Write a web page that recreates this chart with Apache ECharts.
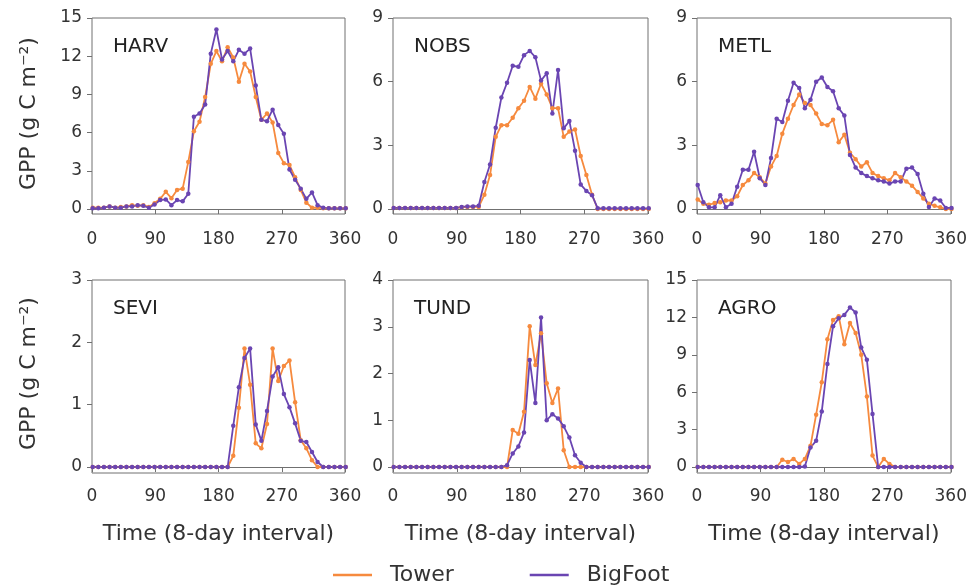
<!DOCTYPE html>
<html>
<head>
<meta charset="utf-8">
<script src="https://cdn.jsdelivr.net/npm/echarts@6/dist/echarts.min.js"></script>
<style>
  html, body { margin: 0; padding: 0; background: #fff; }
  #chart { width: 970px; height: 587px; }
</style>
</head>
<body>
<div id="chart"></div>
<script>
var days = [1, 9, 17, 25, 33, 41, 49, 57, 65, 73, 81, 89, 97, 105, 113, 121, 129, 137, 145, 153,
  161, 169, 177, 185, 193, 201, 209, 217, 225, 233, 241, 249, 257, 265, 273, 281, 289, 297, 305, 313,
  321, 329, 337, 345, 353, 361];

var sites = ['HARV', 'NOBS', 'METL', 'SEVI', 'TUND', 'AGRO'];
var yMax = [15, 9, 9, 3, 4, 15];
var yStep = [3, 3, 3, 1, 1, 3];

var harvTower = [0.1, 0.1, 0.1, 0.2, 0.1, 0.15, 0.2, 0.3, 0.25, 0.3, 0.15, 0.45, 0.8, 1.35, 0.85, 1.5,
  1.6, 3.7, 6.1, 6.85, 8.8, 11.4, 12.4, 11.6, 12.7, 11.9, 10.0, 11.4, 10.8, 8.8, 7.0, 7.5, 6.8, 4.4,
  3.6, 3.45, 2.5, 1.5, 0.5, 0.1, 0.1, 0.05, 0.05, 0.05, 0.05, 0.05];
var harvBigFoot = [0.05, 0.05, 0.1, 0.2, 0.1, 0.1, 0.2, 0.2, 0.3, 0.25, 0.1, 0.35, 0.7, 0.75, 0.3, 0.7,
  0.6, 1.2, 7.25, 7.5, 8.2, 12.2, 14.1, 11.75, 12.4, 11.6, 12.5, 12.2, 12.6, 9.7, 7.0, 6.9, 7.8, 6.6,
  5.9, 3.1, 2.3, 1.6, 0.8, 1.3, 0.3, 0.1, 0.05, 0.05, 0.05, 0.05];

var nobsTower = [0.05, 0.05, 0.05, 0.05, 0.05, 0.05, 0.05, 0.05, 0.05, 0.05, 0.05, 0.05, 0.08, 0.1, 0.1, 0.1,
  0.67, 1.6, 3.4, 3.95, 3.95, 4.3, 4.75, 5.1, 5.75, 5.2, 5.9, 5.4, 4.75, 4.75, 3.4, 3.65, 3.75, 2.5,
  1.6, 0.67, 0, 0, 0, 0, 0, 0, 0, 0, 0, 0];
var nobsBigFoot = [0.05, 0.05, 0.05, 0.05, 0.05, 0.05, 0.05, 0.05, 0.05, 0.05, 0.05, 0.05, 0.1, 0.12, 0.12, 0.15,
  1.27, 2.1, 3.83, 5.25, 5.95, 6.75, 6.7, 7.25, 7.45, 7.15, 6.05, 6.4, 4.5, 6.55, 3.8, 4.15, 2.75, 1.15,
  0.85, 0.65, 0.03, 0.03, 0.03, 0.03, 0.03, 0.03, 0.03, 0.03, 0.03, 0.03];

var metlTower = [0.45, 0.25, 0.2, 0.28, 0.32, 0.4, 0.4, 0.6, 1.13, 1.35, 1.7, 1.5, 1.2, 2.0, 2.5, 3.55,
  4.25, 4.9, 5.4, 5.0, 4.9, 4.5, 4.0, 3.95, 4.2, 3.15, 3.5, 2.65, 2.35, 2.0, 2.2, 1.7, 1.55, 1.45,
  1.35, 1.7, 1.5, 1.3, 1.1, 0.8, 0.5, 0.25, 0.15, 0.08, 0, 0];
var metlBigFoot = [1.13, 0.32, 0.08, 0.08, 0.65, 0.08, 0.25, 1.05, 1.85, 1.85, 2.7, 1.45, 1.13, 2.4, 4.25, 4.1,
  5.1, 5.95, 5.7, 4.75, 5.15, 6.0, 6.2, 5.75, 5.55, 4.75, 4.4, 2.55, 1.95, 1.7, 1.55, 1.45, 1.35, 1.3,
  1.2, 1.3, 1.3, 1.9, 1.95, 1.65, 0.72, 0.1, 0.5, 0.4, 0.05, 0.05];

var seviTower = [0, 0, 0, 0, 0, 0, 0, 0, 0, 0, 0, 0, 0, 0, 0, 0, 0, 0, 0, 0, 0, 0, 0, 0, 0,
  0.18, 0.95, 1.9, 1.32, 0.38, 0.3, 0.69, 1.9, 1.38, 1.62, 1.71, 1.04, 0.43, 0.3, 0.11,
  0, 0, 0, 0, 0, 0];
var seviBigFoot = [0, 0, 0, 0, 0, 0, 0, 0, 0, 0, 0, 0, 0, 0, 0, 0, 0, 0, 0, 0, 0, 0, 0, 0, 0,
  0.66, 1.28, 1.75, 1.9, 0.68, 0.42, 0.9, 1.45, 1.6, 1.17, 0.96, 0.7, 0.42, 0.4, 0.24, 0.08,
  0, 0, 0, 0, 0];

var tundTower = [0, 0, 0, 0, 0, 0, 0, 0, 0, 0, 0, 0, 0, 0, 0, 0, 0, 0, 0, 0, 0,
  0.79, 0.71, 1.18, 3.01, 2.18, 2.86, 1.79, 1.37, 1.68, 0.36,
  0, 0, 0, 0, 0, 0, 0, 0, 0, 0, 0, 0, 0, 0, 0];
var tundBigFoot = [0, 0, 0, 0, 0, 0, 0, 0, 0, 0, 0, 0, 0, 0, 0, 0, 0, 0, 0, 0,
  0.04, 0.29, 0.44, 0.74, 2.29, 1.37, 3.2, 1.0, 1.13, 1.04, 0.87, 0.63, 0.25, 0.09,
  0, 0, 0, 0, 0, 0, 0, 0, 0, 0, 0, 0];

var agroTower = [0, 0, 0, 0, 0, 0, 0, 0, 0, 0, 0, 0, 0, 0,
  0, 0.58, 0.4, 0.65, 0.25, 0.65, 1.7, 4.2, 6.8, 10.25, 11.8, 12.1, 9.85, 11.55, 10.75, 9.0, 5.65, 0.92, 0, 0.65, 0.25,
  0, 0, 0, 0, 0, 0, 0, 0, 0, 0, 0];
var agroBigFoot = [0, 0, 0, 0, 0, 0, 0, 0, 0, 0, 0, 0, 0, 0, 0, 0, 0, 0, 0,
  0.05, 1.57, 2.1, 4.46, 8.27, 11.29, 11.94, 12.2, 12.8, 12.39, 9.58, 8.6, 4.25, 0,
  0, 0, 0, 0, 0, 0, 0, 0, 0, 0, 0, 0, 0];

var towerData = [harvTower, nobsTower, metlTower, seviTower, tundTower, agroTower];
var bigFootData = [harvBigFoot, nobsBigFoot, metlBigFoot, seviBigFoot, tundBigFoot, agroBigFoot];

var orange = '#F68A3E';
var purple = '#6A45B2';
var axisGray = '#707070';
var font = 'DejaVu Sans';

// panel boxes: data area (0 .. max) and a frame that sits a few px lower, like Excel
var lefts = [92, 393, 697];
var widths = [253, 255, 254];
var tops = [18, 280];
var heights = [191, 187];
var drop = [5, 6];
var labelMargin = [17, 15];

function pairs(arr) {
  return arr.map(function (v, i) { return [days[i], v]; });
}

var grids = [], xAxes = [], yAxes = [], series = [], titles = [];
for (var k = 0; k < 6; k++) {
  var col = k % 3, row = Math.floor(k / 3);
  grids.push({
    left: lefts[col], top: tops[row], width: widths[col], height: heights[row], show: false
  });
  xAxes.push({
    type: 'value', gridIndex: k, min: 0, max: 360, interval: 90, offset: drop[row],
    axisLine: { show: true, lineStyle: { color: axisGray, width: 1 } },
    axisTick: { show: true, length: 5, lineStyle: { color: axisGray } },
    axisLabel: { color: '#333', fontSize: 17, fontFamily: font, margin: labelMargin[row] },
    splitLine: { show: false },
    name: row === 1 ? 'Time (8-day interval)' : '',
    nameLocation: 'middle', nameGap: 50,
    nameTextStyle: { color: '#333', fontSize: 22, fontFamily: font }
  });
  yAxes.push({
    type: 'value', gridIndex: k, min: 0, max: yMax[k], interval: yStep[k],
    axisLine: { show: false },
    axisTick: { show: true, length: 5, lineStyle: { color: axisGray } },
    axisLabel: { color: '#333', fontSize: 17, fontFamily: font, margin: 10 },
    splitLine: { show: false },
    name: col === 0 ? 'GPP (g C m\u207B\u00B2)' : '',
    nameLocation: 'middle', nameGap: 52, nameRotate: 90,
    nameTextStyle: { color: '#333', fontSize: 22, fontFamily: font }
  });
  titles.push({
    text: sites[k], left: lefts[col] + 21, top: tops[row] + 19, padding: 0,
    textStyle: { color: '#222', fontSize: 20, fontWeight: 'normal', fontFamily: font }
  });
  series.push({
    name: 'Tower', type: 'line', xAxisIndex: k, yAxisIndex: k, data: pairs(towerData[k]),
    symbol: 'circle', symbolSize: 4.5, clip: false,
    lineStyle: { color: orange, width: 1.8 }, itemStyle: { color: orange }
  });
  series.push({
    name: 'BigFoot', type: 'line', xAxisIndex: k, yAxisIndex: k, data: pairs(bigFootData[k]),
    symbol: 'circle', symbolSize: 4.5, clip: false,
    lineStyle: { color: purple, width: 1.8 }, itemStyle: { color: purple }
  });
}
// frame boxes around each panel
for (var f = 0; f < 6; f++) {
  var c = f % 3, r = Math.floor(f / 3);
  grids.push({
    left: lefts[c], top: tops[r], width: widths[c], height: heights[r] + drop[r],
    show: true, borderColor: axisGray, borderWidth: 1, backgroundColor: 'transparent'
  });
}

var myChart = echarts.init(document.getElementById('chart'));
myChart.setOption({
  animation: false,
  title: titles,
  grid: grids,
  xAxis: xAxes,
  yAxis: yAxes,
  legend: {
    data: [
      { name: 'Tower', icon: 'rect', itemStyle: { color: orange } },
      { name: 'BigFoot', icon: 'rect', itemStyle: { color: purple } }
    ],
    left: 328, top: 559,
    itemWidth: 39, itemHeight: 2.5, itemGap: 76,
    textStyle: { color: '#333', fontSize: 22, fontFamily: font, padding: [0, 0, 0, 13] }
  },
  series: series
});
</script>
</body>
</html>
